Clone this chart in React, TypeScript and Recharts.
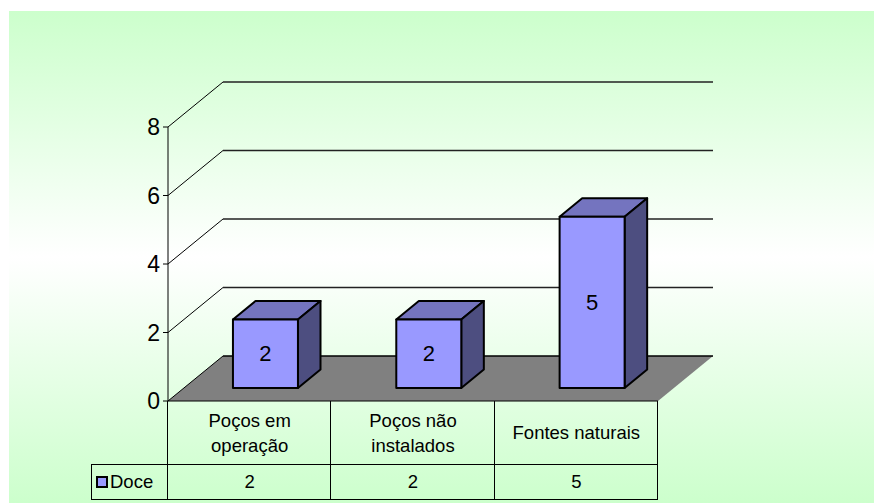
import { BarChart, Bar, XAxis, YAxis, CartesianGrid, LabelList } from "recharts";

const categories = ["Poços em\noperação", "Poços não\ninstalados", "Fontes naturais"];
const doceValues = [2, 2, 5];
const yTicks = [0, 2, 4, 6, 8];
const seriesName = "Doce";

const data = categories.map((name, i) => ({ name, value: doceValues[i] }));

// depth of the fake 3D box (back wall offset from front plane)
const DEPTH_X = 55;
const DEPTH_Y = 45;
const BAR_FRONT = 0.29;
const BAR_BACK = 0.7;

const FONT = "'Liberation Sans', Arial, sans-serif";
const PLOT_LEFT = 168;
const PLOT_RIGHT = 658;
const PLOT_BOTTOM = 401;

function GridLine(props: any) {
  const { x1, y1, x2, y2, index } = props;
  if (Math.abs(y1 - PLOT_BOTTOM) < 1) {
    // floor
    return (
      <g key={`floor-${index}`}>
        <polygon
          points={`${x1},${y1} ${x2},${y2} ${x2 + DEPTH_X},${y2 - DEPTH_Y} ${x1 + DEPTH_X},${y1 - DEPTH_Y}`}
          fill="#808080"
        />
        <line x1={x1} y1={y1} x2={x1 + DEPTH_X} y2={y1 - DEPTH_Y} stroke="#000" strokeWidth={1} />
        <line x1={x1 + DEPTH_X} y1={y1 - DEPTH_Y} x2={x2 + DEPTH_X} y2={y2 - DEPTH_Y} stroke="#000" strokeWidth={1.5} />
        <line x1={x1} y1={y1} x2={x2} y2={y2} stroke="#000" strokeWidth={1} />
      </g>
    );
  }
  return (
    <g key={`grid-${index}`}>
      <line x1={x1} y1={y1} x2={x1 + DEPTH_X} y2={y1 - DEPTH_Y} stroke="#000" strokeWidth={1} />
      <line x1={x1 + DEPTH_X} y1={y1 - DEPTH_Y} x2={x2 + DEPTH_X} y2={y2 - DEPTH_Y} stroke="#222" strokeWidth={1.5} />
    </g>
  );
}

function Box3D(props: any) {
  const { x, y, width, height } = props;
  const fx = x + DEPTH_X * BAR_FRONT;
  const fy = y - DEPTH_Y * BAR_FRONT;
  const dx = DEPTH_X * (BAR_BACK - BAR_FRONT);
  const dy = -DEPTH_Y * (BAR_BACK - BAR_FRONT);
  return (
    <g strokeLinejoin="round">
      <polygon
        points={`${fx},${fy} ${fx + width},${fy} ${fx + width + dx},${fy + dy} ${fx + dx},${fy + dy}`}
        fill="#7474bf"
        stroke="#000"
        strokeWidth={2}
      />
      <polygon
        points={`${fx + width},${fy} ${fx + width + dx},${fy + dy} ${fx + width + dx},${fy + height + dy} ${fx + width},${fy + height}`}
        fill="#4d4e80"
        stroke="#000"
        strokeWidth={2}
      />
      <rect x={fx} y={fy} width={width} height={height} fill="#9999ff" stroke="#000" strokeWidth={2} />
    </g>
  );
}

function BarValue(props: any) {
  const { x, y, width, height, value } = props;
  return (
    <text
      x={x + DEPTH_X * BAR_FRONT + width / 2}
      y={y - DEPTH_Y * BAR_FRONT + height / 2}
      textAnchor="middle"
      dominantBaseline="central"
      fontSize={22}
      fontFamily={FONT}
      fill="#000"
    >
      {value}
    </text>
  );
}

const line = "#000";

export default function App() {
  const colW = (PLOT_RIGHT - PLOT_LEFT) / categories.length;
  const row1H = 63;
  const row2H = 35;
  const legendLeft = 91;
  return (
    <div style={{ position: "absolute", left: 0, top: 0, width: 874, height: 503, background: "#fff", overflow: "hidden" }}>
      <div
        style={{
          position: "absolute",
          left: 9,
          top: 11,
          width: 865,
          height: 492,
          background: "linear-gradient(#ccffcc 0%, #ffffff 50%, #ccffcc 100%)",
        }}
      />
      <div style={{ position: "absolute", left: 0, top: 0 }}>
        <BarChart
          width={874}
          height={503}
          data={data}
          margin={{ top: 127, right: 874 - PLOT_RIGHT, bottom: 503 - PLOT_BOTTOM, left: 100 }}
          barCategoryGap="30%"
        >
          <CartesianGrid vertical={false} horizontal={GridLine} />
          <XAxis dataKey="name" hide />
          <YAxis
            width={PLOT_LEFT - 100}
            domain={[0, 8]}
            ticks={yTicks}
            interval={0}
            tickSize={5}
            tickMargin={3}
            axisLine={{ stroke: "#000", strokeWidth: 1 }}
            tickLine={{ stroke: "#000", strokeWidth: 1 }}
            tick={{ fill: "#000", fontSize: 23, fontFamily: FONT }}
          />
          <Bar dataKey="value" shape={Box3D} isAnimationActive={false}>
            <LabelList dataKey="value" content={BarValue} />
          </Bar>
        </BarChart>
      </div>

      {/* data table below the floor */}
      <div style={{ position: "absolute", left: 0, top: 0, fontFamily: FONT, color: "#000" }}>
        {categories.map((c, i) => (
          <div
            key={c}
            style={{
              position: "absolute",
              left: PLOT_LEFT + i * colW,
              top: PLOT_BOTTOM,
              width: colW,
              height: row1H,
              display: "flex",
              alignItems: "center",
              justifyContent: "center",
              textAlign: "center",
              whiteSpace: "pre-line",
              fontSize: 18.5,
              lineHeight: "25px",
            }}
          >
            {c}
          </div>
        ))}
        {doceValues.map((v, i) => (
          <div
            key={i}
            style={{
              position: "absolute",
              left: PLOT_LEFT + i * colW,
              top: PLOT_BOTTOM + row1H,
              width: colW,
              height: row2H,
              display: "flex",
              alignItems: "center",
              justifyContent: "center",
              fontSize: 18.5,
            }}
          >
            {v}
          </div>
        ))}
        <div
          style={{
            position: "absolute",
            left: legendLeft,
            top: PLOT_BOTTOM + row1H,
            width: PLOT_LEFT - legendLeft,
            height: row2H,
            display: "flex",
            alignItems: "center",
            fontSize: 18.5,
          }}
        >
          <span
            style={{
              display: "inline-block",
              width: 8,
              height: 8,
              marginLeft: 5,
              marginRight: 2,
              background: "#9999ff",
              border: "2px solid #000",
            }}
          />
          {seriesName}
        </div>
        {/* table rules */}
        {[0, 1, 2, 3].map((i) => (
          <div
            key={`v${i}`}
            style={{
              position: "absolute",
              left: Math.round(PLOT_LEFT + i * colW) - 1,
              top: PLOT_BOTTOM,
              width: 1,
              height: row1H + row2H,
              background: line,
            }}
          />
        ))}
        <div style={{ position: "absolute", left: legendLeft, top: PLOT_BOTTOM + row1H, width: 1, height: row2H, background: line }} />
        <div style={{ position: "absolute", left: legendLeft, top: PLOT_BOTTOM + row1H, width: PLOT_RIGHT - legendLeft, height: 1, background: line }} />
        <div style={{ position: "absolute", left: legendLeft, top: PLOT_BOTTOM + row1H + row2H, width: PLOT_RIGHT - legendLeft, height: 1, background: line }} />
      </div>
    </div>
  );
}
